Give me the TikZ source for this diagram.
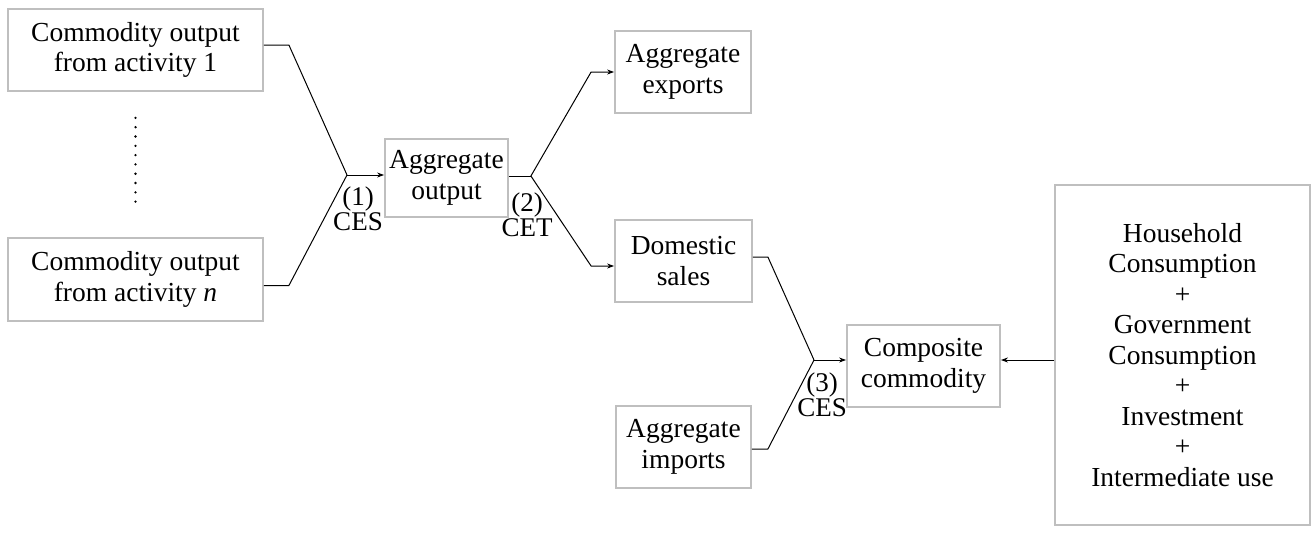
\documentclass[tikz,border=0pt]{standalone}
\usepackage{fontspec}
\setmainfont{Liberation Serif}
\usetikzlibrary{arrows.meta}

\begin{document}
\begin{tikzpicture}[x=1pt,y=-1pt,>={Stealth[length=7pt,width=5pt]},
  box/.style={draw=black!25,line width=1.8pt,align=center,inner sep=0pt,
    font=\fontsize{27.5}{30.5}\selectfont},
  lab/.style={align=center,inner sep=0pt,font=\fontsize{27}{25}\selectfont},
  conn/.style={line width=1pt}]
  \useasboundingbox (0,0) rectangle (1313,538);
  \node[box,minimum width=255pt,minimum height=82pt] (act1) at (135.5,50) {Commodity output\\from activity 1};
  \node[box,minimum width=255pt,minimum height=83pt] (actn) at (135.5,279.5) {Commodity output\\from activity \textit{n}};
  \node[box,minimum width=123pt,minimum height=78pt] (aggout) at (446.5,178) {Aggregate\\output};
  \node[box,minimum width=136pt,minimum height=82pt] (exports) at (683,72) {Aggregate\\exports};
  \node[box,minimum width=137pt,minimum height=82pt] (domsales) at (683.5,261) {Domestic\\sales};
  \node[box,minimum width=135pt,minimum height=82pt] (imports) at (683.5,447) {Aggregate\\imports};
  \node[box,minimum width=153pt,minimum height=82pt] (composite) at (923.5,366) {Composite\\commodity};
  \node[box,minimum width=255pt,minimum height=340pt] (demand) at (1182.5,355) {Household\\Consumption\\+\\Government\\Consumption\\+\\Investment\\+\\Intermediate use};
  \coordinate (ces1) at (347,175);
  \coordinate (ces3) at (814,360);
  \draw[line width=2.6pt,line cap=round,dash pattern=on 0pt off 9.3pt] ([yshift=-26pt]act1.south) -- ([yshift=28pt]actn.north);
  \draw[conn] ([yshift=5pt]act1.east) -- ++(25,0) -- (ces1);
  \draw[conn] ([yshift=-6pt]actn.east) -- ++(25,0) -- (ces1);
  \draw[conn,->] (ces1) -- (ces1 -| aggout.west);
  \draw[conn] ([yshift=2pt]aggout.east) -- ++(22,0) coordinate (cet2);
  \draw[conn,->] (cet2) -- ([xshift=-23pt]exports.west) -- (exports.west);
  \draw[conn,->] (cet2) -- ([xshift=-23pt,yshift=-5pt]domsales.west) -- ([yshift=-5pt]domsales.west);
  \draw[conn] ([yshift=4pt]domsales.east) -- ++(15,0) -- (ces3);
  \draw[conn] ([yshift=-2pt]imports.east) -- ++(16,0) -- (ces3);
  \draw[conn,->] (ces3) -- (ces3 -| composite.west);
  \draw[conn,->] (demand.west |- ces3) -- (composite.east |- ces3);
  \node[lab] (lab1) at (358,209) {(1)\\CES};
  \node[lab] (lab2) at (527,215) {(2)\\CET};
  \node[lab] (lab3) at (822,395) {(3)\\CES};
\end{tikzpicture}
\end{document}
